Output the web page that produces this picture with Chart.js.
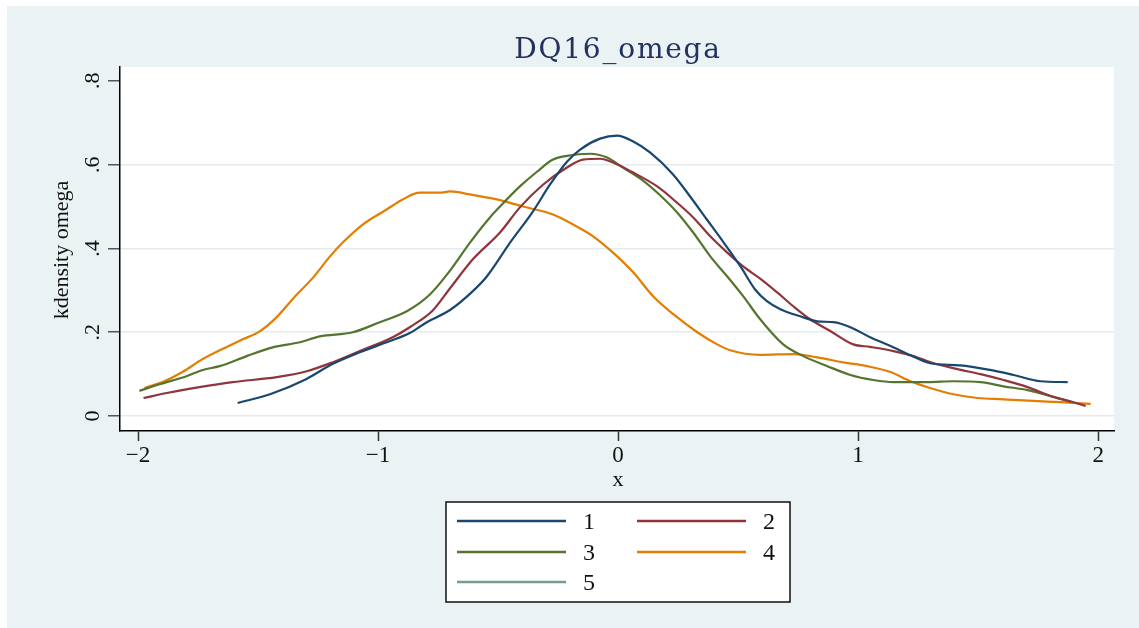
<!DOCTYPE html>
<html>
<head>
<meta charset="utf-8">
<script src="https://cdn.jsdelivr.net/npm/chart.js@4.4.0/dist/chart.umd.min.js"></script>
<style>
html,body{margin:0;padding:0;background:#fff;}
#wrap{width:1139px;height:628px;position:relative;}
canvas{display:block;}
</style>
</head>
<body>
<div id="wrap"><canvas id="c" width="1139" height="628"></canvas></div>
<script>
// ---------- data ----------
const chartTitle = 'DQ16_omega';
const xTitle = 'x';
const yTitle = 'kdensity omega';
const seriesNames = ['1', '2', '3', '4', '5'];
const xTicks = [-2, -1, 0, 1, 2];
const xTickLabels = ['\u22122', '\u22121', '0', '1', '2'];
const yTicks = [0, 0.2, 0.4, 0.6, 0.8];
const yTickLabels = ['0', '.2', '.4', '.6', '.8'];

const x1 = [-1.585,-1.45,-1.30,-1.19,-1.076,-0.964,-0.868,-0.797,-0.70,-0.605,-0.547,-0.45,-0.355,-0.284,-0.213,-0.158,-0.075,-0.004,0.063,0.133,0.23,0.30,0.37,0.44,0.51,0.571,0.62,0.676,0.759,0.83,0.897,0.968,1.05,1.135,1.218,1.30,1.426,1.55,1.648,1.76,1.873];
const y1 = [0.031,0.052,0.088,0.124,0.152,0.176,0.198,0.224,0.253,0.298,0.333,0.414,0.488,0.552,0.607,0.636,0.662,0.669,0.655,0.629,0.576,0.524,0.469,0.414,0.357,0.302,0.274,0.255,0.238,0.226,0.224,0.212,0.188,0.167,0.145,0.126,0.121,0.11,0.098,0.083,0.081];

const x2 = [-1.977,-1.88,-1.744,-1.606,-1.422,-1.297,-1.19,-1.076,-0.939,-0.868,-0.772,-0.70,-0.605,-0.492,-0.409,-0.313,-0.213,-0.146,-0.075,-0.021,0.063,0.163,0.246,0.313,0.384,0.455,0.521,0.592,0.663,0.73,0.80,0.884,0.98,1.05,1.147,1.23,1.314,1.414,1.51,1.606,1.706,1.80,1.898,1.948];
const y2 = [0.043,0.055,0.069,0.081,0.093,0.107,0.128,0.155,0.188,0.212,0.252,0.305,0.374,0.438,0.498,0.552,0.593,0.612,0.614,0.605,0.581,0.548,0.509,0.474,0.429,0.39,0.357,0.328,0.295,0.262,0.231,0.203,0.171,0.165,0.155,0.143,0.126,0.112,0.10,0.086,0.069,0.048,0.033,0.024];

const x3 = [-1.994,-1.91,-1.798,-1.73,-1.66,-1.547,-1.439,-1.326,-1.243,-1.105,-0.993,-0.88,-0.784,-0.70,-0.617,-0.534,-0.492,-0.409,-0.338,-0.271,-0.213,-0.117,-0.046,0.02,0.104,0.175,0.246,0.313,0.384,0.455,0.521,0.592,0.688,0.772,0.872,0.968,1.064,1.147,1.289,1.397,1.51,1.606,1.706,1.80,1.885];
const y3 = [0.06,0.076,0.095,0.11,0.119,0.143,0.164,0.176,0.19,0.2,0.224,0.25,0.29,0.347,0.414,0.474,0.50,0.548,0.583,0.612,0.621,0.626,0.617,0.593,0.562,0.527,0.486,0.438,0.381,0.333,0.286,0.231,0.171,0.143,0.119,0.098,0.086,0.081,0.081,0.083,0.081,0.071,0.062,0.048,0.034];

const x4 = [-1.973,-1.898,-1.815,-1.73,-1.648,-1.564,-1.493,-1.422,-1.356,-1.27,-1.20,-1.147,-1.064,-0.964,-0.897,-0.826,-0.743,-0.70,-0.617,-0.505,-0.396,-0.271,-0.171,-0.104,-0.021,0.063,0.146,0.23,0.33,0.413,0.467,0.592,0.73,0.83,0.938,1.038,1.135,1.218,1.30,1.397,1.497,1.606,1.73,1.843,1.969];
const y4 = [0.067,0.081,0.105,0.136,0.16,0.183,0.202,0.236,0.279,0.331,0.381,0.414,0.457,0.493,0.517,0.533,0.533,0.536,0.529,0.517,0.5,0.481,0.452,0.429,0.39,0.343,0.286,0.243,0.2,0.171,0.157,0.146,0.148,0.14,0.128,0.119,0.105,0.083,0.067,0.052,0.043,0.04,0.036,0.033,0.029];

const x5 = [];
const y5 = [];

// ---------- styles ----------
const colors = ['#1a476f', '#90353b', '#55752f', '#e37e00', '#7a9a90'];
const serif = '"Liberation Serif", "DejaVu Serif", serif';

const seriesX = [x1, x2, x3, x4, x5];
const seriesY = [y1, y2, y3, y4, y5];
const datasets = seriesX.map((xs, i) => ({
  label: seriesNames[i],
  data: xs.map((x, j) => ({ x: x, y: seriesY[i][j] })),
  borderColor: colors[i],
  backgroundColor: colors[i],
  borderWidth: 2.2,
  pointRadius: 0,
  cubicInterpolationMode: 'monotone',
  fill: false
}));

const bgPlugin = {
  id: 'bg',
  beforeDraw(chart) {
    const { ctx, chartArea: a } = chart;
    ctx.save();
    ctx.fillStyle = '#ffffff';
    ctx.fillRect(0, 0, chart.width, chart.height);
    ctx.fillStyle = '#eaf2f3';
    ctx.fillRect(7, 6, chart.width - 7, chart.height - 6);
    ctx.fillStyle = '#ffffff';
    ctx.fillRect(a.left, a.top, a.right - a.left, a.bottom - a.top);
    ctx.restore();
  }
};

const decoPlugin = {
  id: 'deco',
  afterDraw(chart) {
    const { ctx, chartArea: a } = chart;
    const ys = chart.scales.y;
    const xs = chart.scales.x;
    ctx.save();
    // title
    ctx.fillStyle = '#233160';
    ctx.font = '28px "DejaVu Serif", serif';
    ctx.letterSpacing = '1.8px';
    ctx.textAlign = 'center';
    ctx.textBaseline = 'alphabetic';
    ctx.fillText(chartTitle, (a.left + a.right) / 2 + 1, 58);
    ctx.letterSpacing = '0px';

    // y tick labels (rotated)
    ctx.fillStyle = '#111';
    ctx.font = '22px ' + serif;
    yTicks.forEach((v, i) => {
      const py = ys.getPixelForValue(v);
      ctx.save();
      ctx.translate(99, py);
      ctx.rotate(-Math.PI / 2);
      ctx.textAlign = 'center';
      ctx.textBaseline = 'alphabetic';
      ctx.fillText(yTickLabels[i], 0, 0);
      ctx.restore();
    });

    // y title
    ctx.save();
    ctx.translate(68, (a.top + a.bottom) / 2 + 1);
    ctx.rotate(-Math.PI / 2);
    ctx.textAlign = 'center';
    ctx.font = '22px ' + serif;
    ctx.fillText(yTitle, 0, 0);
    ctx.restore();

    // x title
    ctx.textAlign = 'center';
    ctx.font = '22px ' + serif;
    ctx.fillText(xTitle, xs.getPixelForValue(0), 486);

    // legend
    const bx = 446, by = 502, bw = 344, bh = 100;
    ctx.fillStyle = '#ffffff';
    ctx.fillRect(bx, by, bw, bh);
    ctx.strokeStyle = '#111';
    ctx.lineWidth = 1.5;
    ctx.strokeRect(bx, by, bw, bh);
    const rows = [521, 552, 582];
    const cols = [{ l: 457, r: 566, t: 589 }, { l: 637, r: 746, t: 769 }];
    ctx.font = '24px ' + serif;
    chart.data.datasets.forEach((ds, i) => {
      const c = cols[i % 2];
      const ry = rows[Math.floor(i / 2)];
      ctx.strokeStyle = ds.borderColor;
      ctx.lineWidth = 2.5;
      ctx.beginPath();
      ctx.moveTo(c.l, ry);
      ctx.lineTo(c.r, ry);
      ctx.stroke();
      ctx.fillStyle = '#111';
      ctx.textAlign = 'center';
      ctx.textBaseline = 'alphabetic';
      ctx.fillText(ds.label, c.t, ry + 8);
    });
    ctx.restore();
  }
};

new Chart(document.getElementById('c'), {
  type: 'line',
  data: { datasets: datasets },
  options: {
    responsive: false,
    animation: false,
    parsing: true,
    layout: { padding: { left: 0, top: 67, right: 25, bottom: 157 } },
    plugins: { legend: { display: false }, title: { display: false }, tooltip: { enabled: false } },
    scales: {
      x: {
        type: 'linear',
        min: -2.075,
        max: 2.066,
        afterBuildTicks: s => { s.ticks = xTicks.map(v => ({ value: v })); },
        afterFit: s => { s.height = 40; },
        grid: { drawOnChartArea: false, tickLength: 10, tickColor: '#333', tickWidth: 1.5 },
        border: { color: '#000', width: 1.5 },
        ticks: {
          font: { family: serif, size: 23 },
          color: '#111',
          padding: 1,
          maxRotation: 0,
          autoSkip: false,
          callback: (v) => { const k = xTicks.indexOf(v); return k >= 0 ? xTickLabels[k] : ''; }
        }
      },
      y: {
        type: 'linear',
        min: -0.0357,
        max: 0.833,
        afterBuildTicks: s => { s.ticks = yTicks.map(v => ({ value: v })); },
        afterFit: s => { s.width = 120; },
        grid: {
          color: c => (c.tick && c.tick.value > 0.7) ? 'rgba(0,0,0,0)' : '#e3ebee',
          lineWidth: 1.5,
          tickLength: 12,
          tickColor: '#555',
          tickWidth: 1.5
        },
        border: { color: '#000', width: 1.5 },
        ticks: { display: false }
      }
    }
  },
  plugins: [bgPlugin, decoPlugin]
});
</script>
</body>
</html>
